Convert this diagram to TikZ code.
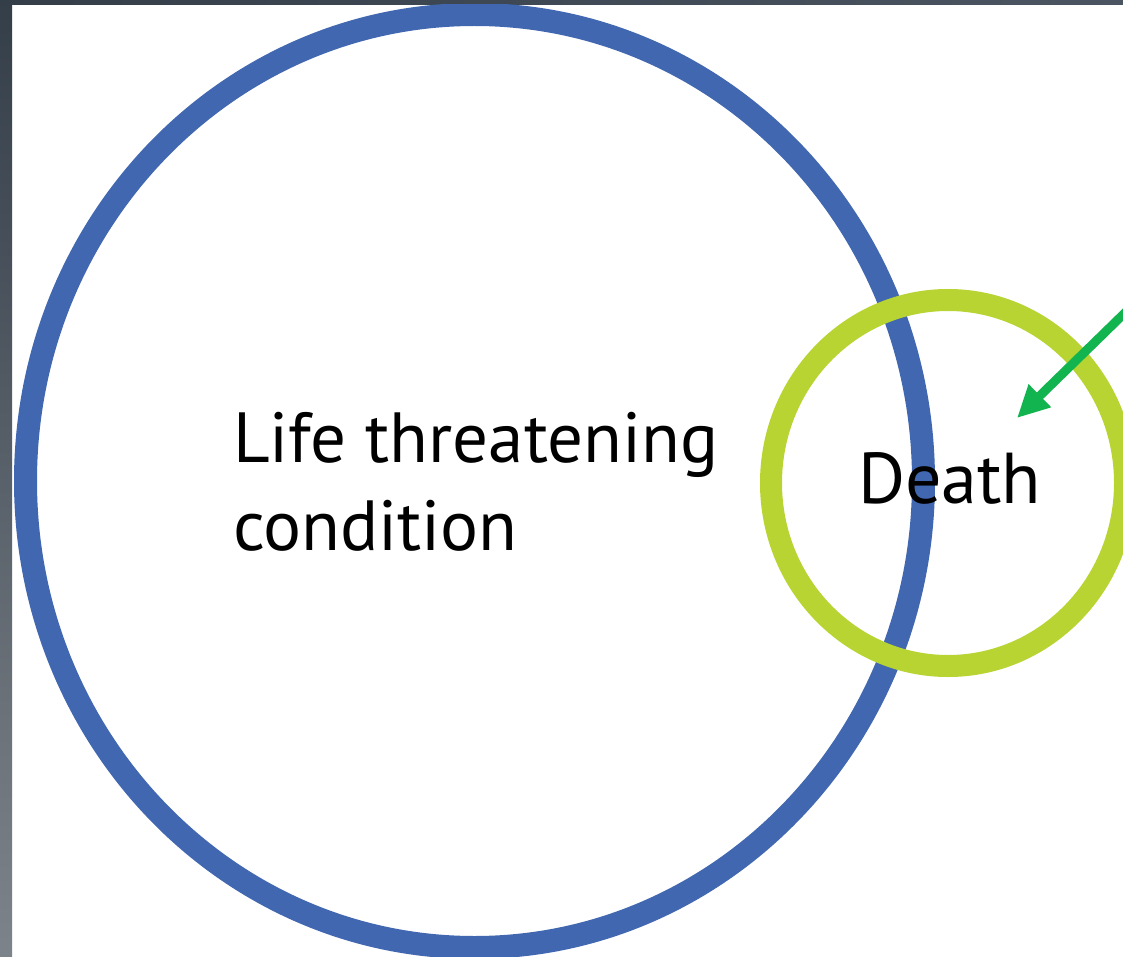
\documentclass[tikz,border=0pt]{standalone}
\usepackage{fontspec}
\setmainfont{PT Sans}
\usetikzlibrary{arrows.meta}
\definecolor{ringblue}{HTML}{4067B0}
\definecolor{ringgreen}{HTML}{B8D432}
\definecolor{arrowgreen}{HTML}{12B450}
\definecolor{frametop}{HTML}{343E49}
\definecolor{framebot}{HTML}{7D838A}
\definecolor{frameright}{HTML}{4A5561}
\tikzset{
  ring/.style={line width=23pt},
  label/.style={inner sep=0pt, font=\fontsize{71}{88}\selectfont, align=left},
  pointer/.style={arrowgreen, line width=9pt, -{Triangle[length=32pt,width=30pt]}}
}
\begin{document}
\begin{tikzpicture}[x=1pt,y=-1pt]
\useasboundingbox (0,0) rectangle (1123,957);
\fill[white] (0,0) rectangle (1123,957);
% frame
\shade[top color=frametop, bottom color=framebot] (0,0) rectangle (12,957);
\shade[left color=frametop, right color=frameright] (0,0) rectangle (1123,5);
\begin{scope}
\clip (12,5) rectangle (1123,957);
\draw[ring, ringblue] (474.5,481) ellipse [x radius=449, y radius=466.5];
\draw[ring, ringgreen, line width=22pt] (948,483) ellipse [x radius=177, y radius=183];
\node[label, anchor=base west] (life) at (233,550) {Life threatening\\condition};
\node[label, font=\fontsize{72}{88}\selectfont, anchor=base west] (death) at (858,503) {Death};
\coordinate (from) at (1135,303);
\coordinate (tip) at (1017,418);
\draw[pointer] (from) -- (tip);
\end{scope}
\end{tikzpicture}
\end{document}
